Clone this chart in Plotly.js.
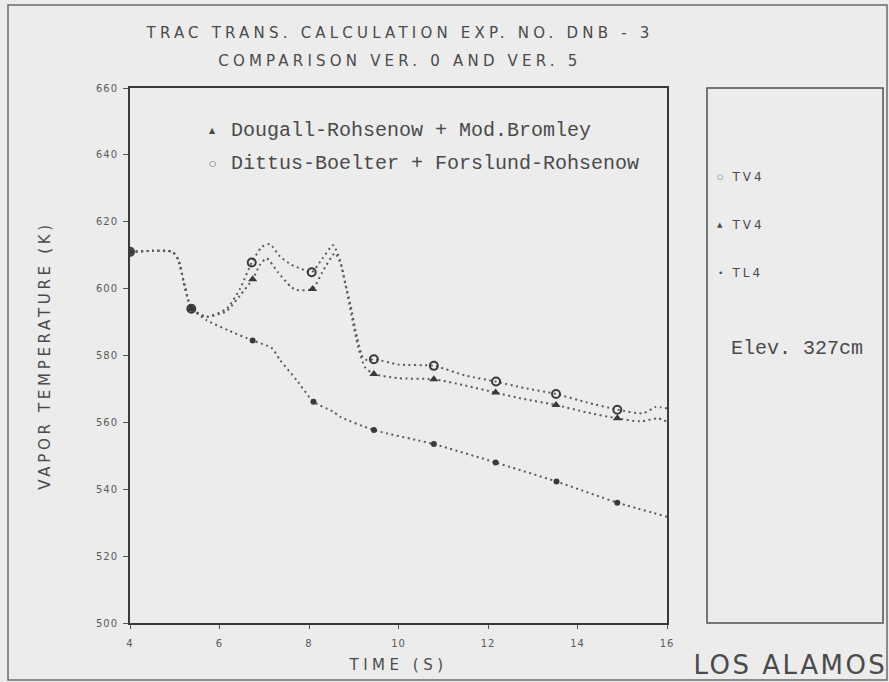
<!DOCTYPE html>
<html>
<head>
<meta charset="utf-8">
<script src="https://cdn.plot.ly/plotly-3.0.1.min.js"></script>
<style>
html, body { margin: 0; padding: 0; background: #ececec; }
#chart { width: 889px; height: 682px; }
.gtitle { letter-spacing: 4.2px; }
.ytitle { letter-spacing: 3.7px; }
.xtitle { letter-spacing: 4.5px; }
.xtick text, .ytick text { letter-spacing: 1px; }
.annotation[data-index="0"] text { letter-spacing: 4.2px; }
.annotation[data-index="7"] text, .annotation[data-index="8"] text, .annotation[data-index="9"] text { letter-spacing: 3px; }
.annotation[data-index="11"] text { letter-spacing: 2.5px; }
</style>
</head>
<body>
<div id="chart"></div>
<script>
// ---- Data ----
// Dittus-Boelter + Forslund-Rohsenow (open circles, TV4)
const dbX = [4, 4.5, 4.95, 5.08, 5.2, 5.3, 5.37, 5.71, 6.16, 6.46, 6.72, 6.95, 7.13, 7.35, 7.6, 7.85, 8.06, 8.3, 8.54, 8.69, 8.8, 8.92, 9.07, 9.2, 9.3, 9.45, 10.0, 10.79, 11.5, 12.18, 12.8, 13.52, 14.2, 14.89, 15.47, 15.75, 16];
const dbY = [611, 611.3, 611, 608.6, 602, 596.6, 594, 591.6, 594, 600, 607.8, 612.5, 613.3, 609.6, 607.2, 605.8, 604.9, 609, 613, 608.6, 602, 595.6, 585.6, 579.5, 578.6, 578.9, 577.3, 576.9, 574, 572.2, 570.3, 568.5, 566, 563.8, 562.7, 564.6, 564.2];
const dbMarkX = [4, 5.37, 6.72, 8.06, 9.45, 10.79, 12.18, 13.52, 14.89];
const dbMarkY = [611, 594, 607.8, 604.9, 578.9, 576.9, 572.2, 568.5, 563.8];

// Dougall-Rohsenow + Mod.Bromley (triangles, TV4)
const drX = [4, 4.5, 4.95, 5.08, 5.2, 5.3, 5.37, 5.71, 6.16, 6.46, 6.74, 6.9, 7.05, 7.3, 7.6, 7.72, 8.08, 8.3, 8.58, 8.72, 8.85, 8.95, 9.1, 9.25, 9.45, 10.0, 10.79, 11.5, 12.17, 12.8, 13.52, 14.2, 14.89, 15.4, 15.8, 16];
const drY = [611, 611.3, 611, 608.6, 602, 596.6, 594, 591.6, 593.3, 598, 602.8, 607, 609.1, 605, 600.5, 599.6, 599.9, 605, 610.6, 607, 599, 592, 582.5, 576.5, 574.5, 573.2, 572.9, 571, 568.9, 567, 565.2, 563, 561.2, 560.3, 561.2, 560.2];
const drMarkX = [4, 5.37, 6.74, 8.08, 9.45, 10.79, 12.17, 13.52, 14.89];
const drMarkY = [611, 594, 602.8, 599.9, 574.5, 572.9, 568.9, 565.2, 561.2];

// TL4 (small dots)
const tlX = [4, 4.5, 4.95, 5.08, 5.2, 5.3, 5.37, 5.71, 6.2, 6.74, 7.17, 7.35, 7.72, 8.1, 8.54, 8.69, 9.45, 10.79, 12.17, 13.53, 14.89, 16];
const tlY = [611, 611.3, 611, 608.6, 602, 596.6, 594, 590.6, 587.5, 584.5, 582.2, 578.7, 572.7, 566.2, 563.2, 561.7, 557.7, 553.5, 548, 542.3, 536, 531.8];
const tlMarkX = [4, 5.37, 6.74, 8.1, 9.45, 10.79, 12.17, 13.53, 14.89];
const tlMarkY = [611, 594, 584.5, 566.2, 557.7, 553.5, 548, 542.3, 536];

const xTicks = [4, 6, 8, 10, 12, 14, 16];
const yTicks = [500, 520, 540, 560, 580, 600, 620, 640, 660];

const titleLine1 = 'TRAC TRANS. CALCULATION EXP. NO. DNB - 3';
const titleLine2 = 'COMPARISON VER. 0 AND VER. 5';
const legendDR = 'Dougall-Rohsenow + Mod.Bromley';
const legendDB = 'Dittus-Boelter + Forslund-Rohsenow';
const panelLabels = ['TV4', 'TV4', 'TL4'];
const elevText = 'Elev. 327cm';
const siteText = 'LOS ALAMOS';

// ---- Styling ----
const ink = '#4a4a4a';
const lineStyle = {color: '#5a5a5a', width: 2, dash: '2px,3.5px', shape: 'spline', smoothing: 0.6};

const traces = [
  {x: dbX, y: dbY, mode: 'lines', line: lineStyle, name: legendDB, showlegend: false, hoverinfo: 'skip'},
  {x: drX, y: drY, mode: 'lines', line: lineStyle, name: legendDR, showlegend: false, hoverinfo: 'skip'},
  {x: tlX, y: tlY, mode: 'lines', line: lineStyle, name: 'TL4', showlegend: false, hoverinfo: 'skip'},
  {x: tlMarkX, y: tlMarkY, mode: 'markers', name: 'TL4', showlegend: false,
   marker: {symbol: 'circle', size: 6, color: '#3a3a3a'}},
  {x: drMarkX, y: drMarkY, mode: 'markers', name: 'TV4 (Dougall-Rohsenow)', showlegend: false,
   marker: {symbol: 'triangle-up', size: 8, color: '#3a3a3a'}},
  {x: dbMarkX, y: dbMarkY, mode: 'markers', name: 'TV4 (Dittus-Boelter)', showlegend: false,
   marker: {symbol: 'circle-open', size: 8, color: '#3a3a3a', line: {width: 2, color: '#3a3a3a'}}}
];

// pixel -> paper helpers (plot area: x 130..667, y 88..623)
const L = 130, R = 667, T = 88, B = 623;
const px = v => (v - L) / (R - L);
const py = v => (B - v) / (B - T);

const monoFont = {family: 'Liberation Mono, DejaVu Sans Mono, monospace', size: 20, color: ink};
const annFont = (s) => ({family: 'DejaVu Sans, sans-serif', size: s, color: ink});

const annotations = [
  // 0: title line 2
  {text: titleLine2, xref: 'paper', yref: 'paper', x: px(400), y: py(61), xanchor: 'center', yanchor: 'middle', showarrow: false, font: annFont(15)},
  // 1-4: in-plot legend
  {text: '▲', xref: 'paper', yref: 'paper', x: px(212), y: py(131), xanchor: 'center', yanchor: 'middle', showarrow: false, font: annFont(8)},
  {text: legendDR, xref: 'paper', yref: 'paper', x: px(229), y: py(131), xanchor: 'left', yanchor: 'middle', showarrow: false, font: monoFont},
  {text: '○', xref: 'paper', yref: 'paper', x: px(212), y: py(163), xanchor: 'center', yanchor: 'middle', showarrow: false, font: annFont(8)},
  {text: legendDB, xref: 'paper', yref: 'paper', x: px(229), y: py(163), xanchor: 'left', yanchor: 'middle', showarrow: false, font: monoFont},
  // 5-6: panel symbols
  {text: '○', xref: 'paper', yref: 'paper', x: px(720), y: py(177), xanchor: 'center', yanchor: 'middle', showarrow: false, font: annFont(7)},
  {text: '▲', xref: 'paper', yref: 'paper', x: px(720), y: py(225), xanchor: 'center', yanchor: 'middle', showarrow: false, font: annFont(7)},
  // 7-9: panel labels
  {text: panelLabels[0], xref: 'paper', yref: 'paper', x: px(734), y: py(177), xanchor: 'left', yanchor: 'middle', showarrow: false, font: annFont(12)},
  {text: panelLabels[1], xref: 'paper', yref: 'paper', x: px(734), y: py(225), xanchor: 'left', yanchor: 'middle', showarrow: false, font: annFont(12)},
  {text: panelLabels[2], xref: 'paper', yref: 'paper', x: px(734), y: py(273), xanchor: 'left', yanchor: 'middle', showarrow: false, font: annFont(12)},
  // 10: panel dot
  {text: '•', xref: 'paper', yref: 'paper', x: px(720), y: py(273), xanchor: 'center', yanchor: 'middle', showarrow: false, font: annFont(9)},
  // 11: LOS ALAMOS
  {text: siteText, xref: 'paper', yref: 'paper', x: px(790), y: py(665), xanchor: 'center', yanchor: 'middle', showarrow: false, font: {family: 'DejaVu Sans, sans-serif', size: 26, color: ink}},
  // 12: elevation
  {text: elevText, xref: 'paper', yref: 'paper', x: px(729), y: py(348), xanchor: 'left', yanchor: 'middle', showarrow: false, font: monoFont}
];

const shapes = [
  // right-hand panel box
  {type: 'rect', xref: 'paper', yref: 'paper', x0: px(707), x1: px(883), y0: py(623), y1: py(88), line: {color: '#505050', width: 1.5}},
  // page frame
  {type: 'rect', xref: 'paper', yref: 'paper', x0: px(8), x1: px(887), y0: py(680), y1: py(5), line: {color: '#6a6a6a', width: 1.5}}
];

const layout = {
  width: 889, height: 682,
  paper_bgcolor: '#ececec', plot_bgcolor: '#ececec',
  margin: {l: L, r: 889 - R, t: T, b: 682 - B, pad: 0},
  showlegend: false,
  title: {text: titleLine1, x: 400 / 889, xanchor: 'center', y: 1 - 33 / 682, yanchor: 'middle', xref: 'container', yref: 'container',
          font: {family: 'DejaVu Sans, sans-serif', size: 15, color: ink}},
  xaxis: {
    range: [4, 16], tickvals: xTicks, ticktext: xTicks.map(String),
    showgrid: false, zeroline: false, showline: true, linecolor: '#3a3a3a', linewidth: 2, mirror: true,
    ticks: 'outside', ticklen: 4, tickcolor: '#555', tickwidth: 1, ticklabelstandoff: 6,
    tickfont: {family: 'DejaVu Sans, sans-serif', size: 10, color: '#5a5a5a'},
    title: {text: 'TIME (S)', standoff: 11, font: {family: 'DejaVu Sans, sans-serif', size: 15, color: ink}}
  },
  yaxis: {
    range: [500, 660], tickvals: yTicks, ticktext: yTicks.map(String),
    showgrid: false, zeroline: false, showline: true, linecolor: '#3a3a3a', linewidth: 2, mirror: true,
    ticks: 'outside', ticklen: 5, tickcolor: '#555', tickwidth: 1, ticklabelstandoff: 3,
    tickfont: {family: 'DejaVu Sans, sans-serif', size: 10, color: '#5a5a5a'},
    title: {text: 'VAPOR TEMPERATURE (K)', standoff: 42, font: {family: 'DejaVu Sans, sans-serif', size: 15, color: ink}}
  },
  annotations: annotations,
  shapes: shapes
};

Plotly.newPlot('chart', traces, layout, {staticPlot: true});
</script>
</body>
</html>
